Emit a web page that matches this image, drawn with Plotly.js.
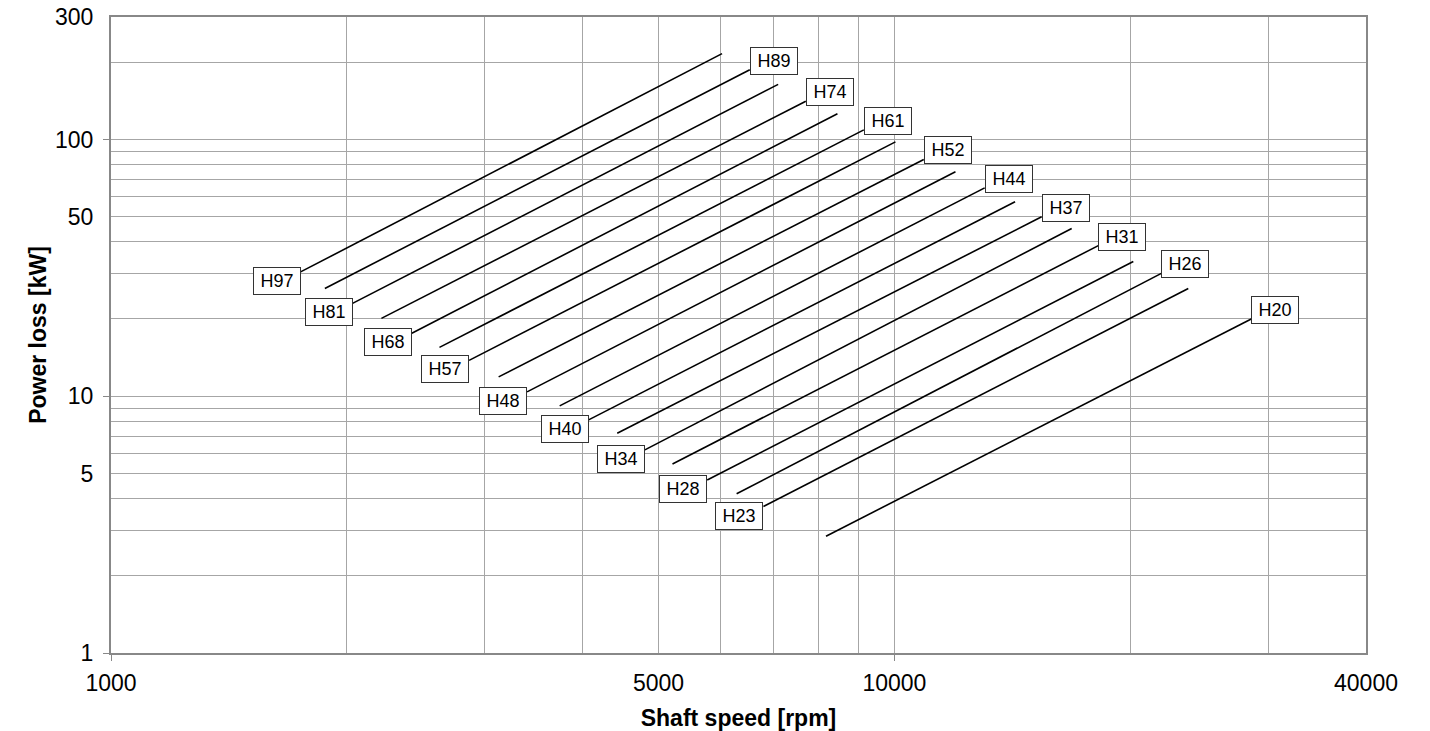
<!DOCTYPE html>
<html>
<head>
<meta charset="utf-8">
<script src="https://cdn.plot.ly/plotly-3.0.1.min.js"></script>
<style>
  html, body { margin: 0; padding: 0; background: #ffffff; }
  #chart { width: 1430px; height: 731px; }
</style>
</head>
<body>
<div id="chart"></div>
<script>
// ---- Data ----
const names = ['H97','H89','H81','H74','H68','H61','H57','H52','H48','H44','H40','H37','H34','H31','H28','H26','H23','H20'];
const speedMin = [1746, 1875, 2034, 2214, 2421, 2626, 2865, 3125, 3397, 3739, 4071, 4428, 4803, 5209, 5769, 6290, 6805, 8180];
const speedMax = [6026, 6538, 7107, 7708, 8459, 9141, 10032, 10902, 11967, 13040, 14259, 15418, 16840, 18211, 20184, 21918, 23725, 28546];
const lossMin = [30.5, 26.3, 23.0, 20.1, 17.6, 15.5, 13.8, 11.9, 10.4, 9.17, 8.09, 7.18, 6.18, 5.45, 4.72, 4.17, 3.72, 2.85];
const lossMax = [216, 187, 164, 141, 126, 109, 97.9, 83.6, 74.9, 64.8, 57.2, 50.0, 45.0, 38.6, 33.5, 30.1, 26.3, 20.0];
const labelSide = ['left','right','left','right','left','right','left','right','left','right','left','right','left','right','left','right','left','right'];

const xGridVals = [1000,2000,3000,4000,5000,6000,7000,8000,9000,10000,20000,30000,40000];
const xLabeled = [1000, 5000, 10000, 40000];
const yGridVals = [1,2,3,4,5,6,7,8,9,10,20,30,40,50,60,70,80,90,100,200,300];
const yLabeled = [1, 5, 10, 50, 100, 300];
const xDecades = [1000, 10000];
const yDecades = [1, 10, 100];

// ---- Build traces ----
const traces = names.map((n, i) => ({
  type: 'scatter',
  mode: 'lines',
  name: n,
  x: [speedMin[i], speedMax[i]],
  y: [lossMin[i], lossMax[i]],
  line: { color: '#000000', width: 1.6 },
  showlegend: false,
  hoverinfo: 'name'
}));

const annFont = { family: 'Liberation Sans, Arial, sans-serif', size: 18, color: '#000000' };
const annotations = names.map((n, i) => {
  const left = labelSide[i] === 'left';
  return {
    xref: 'x', yref: 'y',
    x: Math.log10(left ? speedMin[i] : speedMax[i]),
    y: Math.log10(left ? lossMin[i] : lossMax[i]),
    text: n,
    showarrow: false,
    xanchor: left ? 'right' : 'left',
    yanchor: left ? 'top' : 'bottom',
    yshift: left ? 5 : -5,
    font: annFont,
    bgcolor: '#ffffff',
    bordercolor: '#333333',
    borderwidth: 1,
    borderpad: 2,
    width: 42,
    height: 22,
    align: 'center'
  };
});

const tickFont = { family: 'Liberation Sans, Arial, sans-serif', size: 23, color: '#000000' };
const titleFont = { family: 'Liberation Sans, Arial, sans-serif', size: 23, color: '#000000', weight: 'bold' };

const layout = {
  width: 1430,
  height: 731,
  margin: { l: 111, r: 64, t: 17, b: 78 },
  paper_bgcolor: '#ffffff',
  plot_bgcolor: '#ffffff',
  showlegend: false,
  xaxis: {
    type: 'log',
    range: [Math.log10(1000), Math.log10(40000)],
    tickmode: 'array',
    tickvals: xGridVals,
    ticktext: xGridVals.map(v => xLabeled.includes(v) ? String(v) : ''),
    ticks: '',
    ticklabelstandoff: 8,
    tickfont: tickFont,
    showgrid: true,
    gridcolor: '#a6a6a6',
    gridwidth: 1,
    showline: true,
    linecolor: '#888888',
    linewidth: 2,
    mirror: true,
    zeroline: false,
    minor: { tickmode: 'array', tickvals: xDecades, ticks: 'outside', ticklen: 6, tickcolor: '#888888', tickwidth: 1, showgrid: false },
    title: { text: 'Shaft speed [rpm]', font: titleFont, standoff: 24 },
    automargin: false
  },
  yaxis: {
    type: 'log',
    range: [0, Math.log10(300)],
    tickmode: 'array',
    tickvals: yGridVals,
    ticktext: yGridVals.map(v => yLabeled.includes(v) ? String(v) : ''),
    ticks: '',
    ticklabelstandoff: 11,
    tickfont: tickFont,
    showgrid: true,
    gridcolor: '#a6a6a6',
    gridwidth: 1,
    showline: true,
    linecolor: '#888888',
    linewidth: 2,
    mirror: true,
    zeroline: false,
    minor: { tickmode: 'array', tickvals: yDecades, ticks: 'outside', ticklen: 6, tickcolor: '#888888', tickwidth: 1, showgrid: false },
    title: { text: 'Power loss [kW]', font: titleFont, standoff: 2 },
    automargin: false
  },
  annotations: annotations
};

Plotly.newPlot('chart', traces, layout, { staticPlot: true, displayModeBar: false });
</script>
</body>
</html>
